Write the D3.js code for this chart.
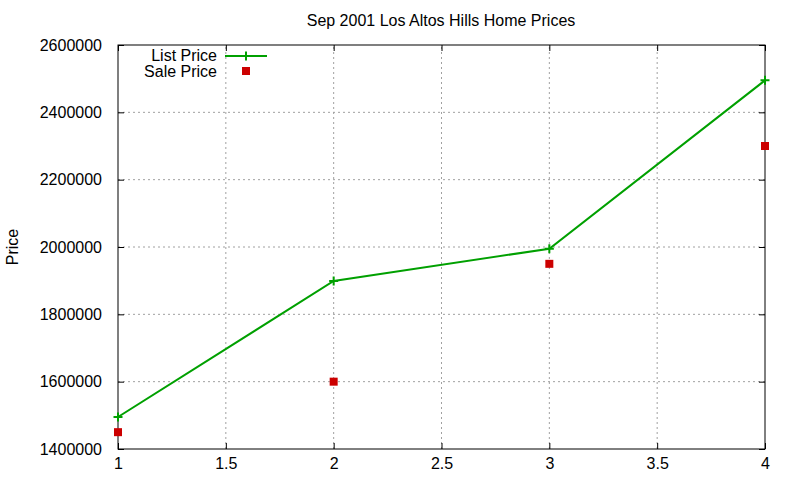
<!DOCTYPE html>
<html>
<head>
<meta charset="utf-8">
<script src="https://cdn.jsdelivr.net/npm/d3@7"></script>
<style>
  body { margin: 0; background: #fff; }
  svg { font-family: "Liberation Sans", Arial, sans-serif; }
</style>
</head>
<body>
<svg id="chart" width="800" height="480"></svg>
<script>
// data
const weeks = [1, 2, 3, 4];
const listPrice = [1495000, 1899000, 1995000, 2495000];
const salePrice = [1450000, 1600000, 1950000, 2300000];
const xTicks = [1, 1.5, 2, 2.5, 3, 3.5, 4];
const yTicks = [1400000, 1600000, 1800000, 2000000, 2200000, 2400000, 2600000];

const svg = d3.select("#chart"),
    width = +svg.attr("width"),
    height = +svg.attr("height");

const margin = {top: 45, right: 35, bottom: 31, left: 118};
const fontSize = "16px";

const x = d3.scaleLinear().domain([1, 4]).range([margin.left, width - margin.right]);
const y = d3.scaleLinear().domain([1400000, 2600000]).range([height - margin.bottom, margin.top]);

const gridColor = "#a0a0a0";

// grid lines
svg.append("g")
    .selectAll("line")
    .data(xTicks.slice(1, -1))
    .enter().append("line")
    .attr("x1", d => x(d)).attr("x2", d => x(d))
    .attr("y1", y.range()[0]).attr("y2", y.range()[1])
    .attr("stroke", gridColor)
    .attr("stroke-dasharray", "2,3");

svg.append("g")
    .selectAll("line")
    .data(yTicks.slice(1, -1))
    .enter().append("line")
    .attr("x1", x.range()[0]).attr("x2", x.range()[1])
    .attr("y1", d => y(d)).attr("y2", d => y(d))
    .attr("stroke", gridColor)
    .attr("stroke-dasharray", "2,3");

// axes with inward ticks, mirrored on top/right
const tickLen = 6;
const bottomAxis = svg.append("g")
    .attr("transform", `translate(0,${y.range()[0]})`)
    .call(d3.axisBottom(x).tickValues(xTicks).tickSizeInner(-tickLen).tickSizeOuter(0)
        .tickPadding(9).tickFormat(d3.format("")));
const leftAxis = svg.append("g")
    .attr("transform", `translate(${x.range()[0]},0)`)
    .call(d3.axisLeft(y).tickValues(yTicks).tickSizeInner(-tickLen).tickSizeOuter(0)
        .tickPadding(16).tickFormat(d3.format("d")));
const topAxis = svg.append("g")
    .attr("transform", `translate(0,${y.range()[1]})`)
    .call(d3.axisTop(x).tickValues(xTicks).tickSizeInner(-tickLen).tickSizeOuter(0).tickFormat(""));
const rightAxis = svg.append("g")
    .attr("transform", `translate(${x.range()[1]},0)`)
    .call(d3.axisRight(y).tickValues(yTicks).tickSizeInner(-tickLen).tickSizeOuter(0).tickFormat(""));

[bottomAxis, leftAxis, topAxis, rightAxis].forEach(a => {
    a.select(".domain").remove();
    a.selectAll("line").attr("stroke", "#000");
    a.selectAll("text").attr("fill", "#000").style("font-size", fontSize)
        .style("font-family", "'Liberation Sans', Arial, sans-serif");
});

// border
svg.append("rect")
    .attr("x", x.range()[0]).attr("y", y.range()[1])
    .attr("width", x.range()[1] - x.range()[0])
    .attr("height", y.range()[0] - y.range()[1])
    .attr("fill", "none").attr("stroke", "#000");

// title and y label
svg.append("text")
    .attr("x", 441).attr("y", 26)
    .attr("text-anchor", "middle")
    .style("font-size", fontSize)
    .text("Sep 2001 Los Altos Hills Home Prices");

svg.append("text")
    .attr("transform", `translate(18,${(y.range()[0] + y.range()[1]) / 2}) rotate(-90)`)
    .attr("text-anchor", "middle")
    .style("font-size", fontSize)
    .text("Price");

const green = "#00a000", red = "#cc0000";

// list price line
const line = d3.line().x((d, i) => x(weeks[i])).y(d => y(d));
svg.append("path")
    .datum(listPrice)
    .attr("d", line)
    .attr("fill", "none")
    .attr("stroke", green)
    .attr("stroke-width", 2);

function plusPath(cx, cy, s) {
    return `M${cx - s},${cy}H${cx + s}M${cx},${cy - s}V${cy + s}`;
}
svg.append("g")
    .selectAll("path")
    .data(listPrice)
    .enter().append("path")
    .attr("d", (d, i) => plusPath(x(weeks[i]), y(d), 4.5))
    .attr("stroke", green)
    .attr("stroke-width", 2);

// sale price squares
svg.append("g")
    .selectAll("rect")
    .data(salePrice)
    .enter().append("rect")
    .attr("x", (d, i) => x(weeks[i]) - 4)
    .attr("y", d => y(d) - 4)
    .attr("width", 8).attr("height", 8)
    .attr("fill", red);

// legend
const legend = svg.append("g");
legend.append("text")
    .attr("x", 217).attr("y", 61)
    .attr("text-anchor", "end")
    .style("font-size", fontSize)
    .text("List Price");
legend.append("line")
    .attr("x1", 225).attr("x2", 267)
    .attr("y1", 56).attr("y2", 56)
    .attr("stroke", green).attr("stroke-width", 2);
legend.append("path")
    .attr("d", plusPath(246, 56, 4.5))
    .attr("stroke", green).attr("stroke-width", 2);
legend.append("text")
    .attr("x", 217).attr("y", 77)
    .attr("text-anchor", "end")
    .style("font-size", fontSize)
    .text("Sale Price");
legend.append("rect")
    .attr("x", 242).attr("y", 67)
    .attr("width", 8).attr("height", 8)
    .attr("fill", red);
</script>
</body>
</html>
